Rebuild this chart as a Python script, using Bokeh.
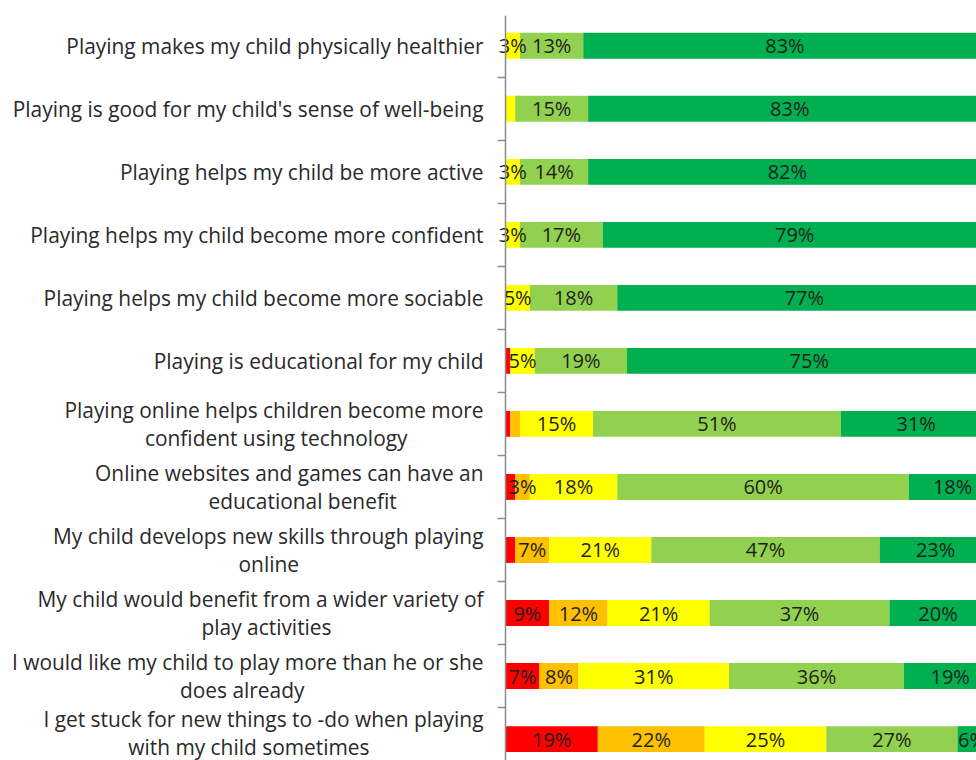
from bokeh.plotting import figure
from bokeh.models import Range1d, FixedTicker, ColumnDataSource, LinearAxis
from bokeh.core.properties import value
from bokeh.embed import file_html
from bokeh.resources import INLINE

statements = [
    "Playing makes my child physically healthier",
    "Playing is good for my child's sense of well-being",
    "Playing helps my child be more active",
    "Playing helps my child become more confident",
    "Playing helps my child become more sociable",
    "Playing is educational for my child",
    "Playing online helps children become more\nconfident using technology",
    "Online websites and games can have an\neducational benefit",
    "My child develops new skills through playing\nonline",
    "My child would benefit from a wider variety of\nplay activities",
    "I would like my child to play more than he or she\ndoes already",
    "I get stuck for new things to -do when playing\nwith my child sometimes",
]
strongly_disagree = [0, 0, 0, 0, 0, 1, 1, 2, 2, 9, 7, 19]
disagree = [0, 0, 0, 0, 0, 0, 2, 3, 7, 12, 8, 22]
neutral = [3, 2, 3, 3, 5, 5, 15, 18, 21, 21, 31, 25]
agree = [13, 15, 14, 17, 18, 19, 51, 60, 47, 37, 36, 27]
strongly_agree = [83, 83, 82, 79, 77, 75, 31, 18, 23, 20, 19, 6]

series = [strongly_disagree, disagree, neutral, agree, strongly_agree]
colors = ["#FF0000", "#FFC000", "#FFFF00", "#92D050", "#00B050"]

ys = list(range(1, len(statements) + 1))
boundaries = [0.5 + i for i in range(len(ys) + 1)]


def centred(label):
    # pad the second line with no-break spaces so it sits centred under the first
    parts = label.split("\n")
    if len(parts) == 1:
        return label
    first, second = parts
    pad = round(0.9 * (len(first) - len(second)))
    return first + "\n" + second + "\u00a0" * max(pad, 0)


p = figure(width=976, height=760, output_backend="svg", toolbar_location=None,
           x_range=Range1d(-3.086, 96.914), y_range=Range1d(12.34, 0.52),
           min_border_left=490, min_border_top=15, min_border_bottom=0, min_border_right=0)
p.outline_line_color = None
p.xgrid.visible = False
p.ygrid.visible = False
p.xaxis.visible = False

left = [0] * len(ys)
lab_x, lab_y, lab_t = [], [], []
for vals, col in zip(series, colors):
    right = [l + v for l, v in zip(left, vals)]
    src = ColumnDataSource(dict(y=ys, left=left, right=right))
    p.hbar(y="y", left="left", right="right", height=0.41, source=src,
           fill_color=col, line_color=None)
    for yy, l, v in zip(ys, left, vals):
        if v >= 3:
            lab_x.append(l + v / 2)
            lab_y.append(yy)
            lab_t.append(f"{v}%")
    left = right

p.text(x=lab_x, y=lab_y, text=lab_t, text_align="center", text_baseline="middle",
       text_font=value("Open Sans"), text_font_size="20px", text_color="#1e1e1e")

# category labels (left side panel)
ax = p.yaxis[0]
ax.ticker = FixedTicker(ticks=ys)
ax.major_label_overrides = {y: centred(s) for y, s in zip(ys, statements)}
ax.axis_line_color = None
ax.major_tick_line_color = None
ax.minor_tick_line_color = None
ax.major_tick_out = 0
ax.major_tick_in = 0
ax.minor_tick_out = 0
ax.minor_tick_in = 0
ax.major_label_standoff = 7
ax.major_label_text_font = "Open Sans"
ax.major_label_text_font_size = "20.9px"
ax.major_label_text_color = "#2a2a2a"
ax.major_label_text_line_height = 1.0

# axis line with ticks between categories, at x = 0
line_ax = LinearAxis(fixed_location=0, ticker=FixedTicker(ticks=[], minor_ticks=boundaries))
line_ax.axis_line_color = "#8c8c8c"
line_ax.axis_line_width = 1.5
line_ax.major_tick_line_color = None
line_ax.major_tick_out = 0
line_ax.major_tick_in = 0
line_ax.minor_tick_out = 0
line_ax.minor_tick_in = 8
line_ax.minor_tick_line_color = "#8c8c8c"
line_ax.minor_tick_line_width = 1.5
line_ax.major_label_standoff = 0
line_ax.major_label_text_font_size = "0px"
p.add_layout(line_ax, "right")

open("out.html", "w").write(file_html(p, INLINE))
